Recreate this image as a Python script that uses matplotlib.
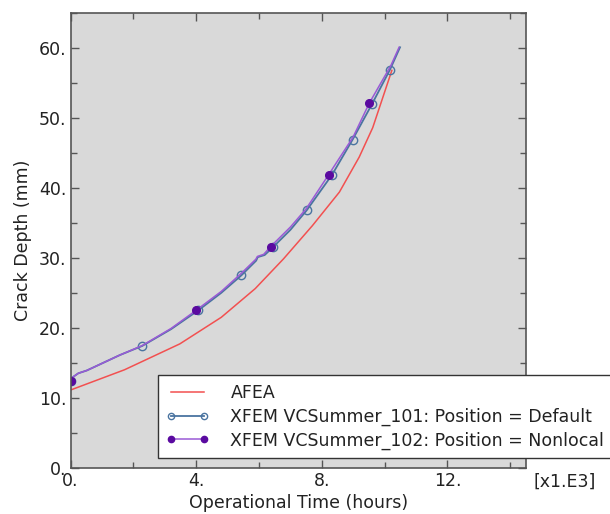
import matplotlib
matplotlib.use("Agg")
import matplotlib.pyplot as plt
from matplotlib.ticker import MultipleLocator, FuncFormatter

# ---- data (time in thousands of hours, depth in mm) ----
afea_x = [0.0, 1.72, 3.48, 4.80, 5.88, 6.78, 7.70, 8.56, 9.19, 9.62, 10.23]
afea_y = [11.1, 14.0, 17.7, 21.5, 25.6, 29.85, 34.6, 39.4, 44.4, 48.6, 56.8]

def_x = [0.0, 0.09, 0.25, 0.52, 1.57, 2.28, 3.20, 4.07, 4.80, 5.44, 5.91, 5.96, 6.18, 6.44, 7.00, 7.52, 8.33, 8.98, 9.60, 10.17, 10.49]
def_y = [12.45, 13.0, 13.5, 13.9, 16.1, 17.4, 19.8, 22.5, 25.0, 27.5, 29.6, 30.1, 30.4, 31.5, 34.0, 36.8, 41.9, 46.9, 52.0, 56.9, 60.1]
def_marks = [0, 5, 7, 9, 13, 15, 16, 17, 18, 19]

nl_x = [0.0, 0.09, 0.25, 0.52, 1.57, 2.28, 3.20, 4.00, 4.80, 5.44, 5.90, 5.95, 6.15, 6.37, 7.00, 7.50, 8.22, 9.00, 9.51, 10.20, 10.46]
nl_y = [12.45, 13.0, 13.5, 13.9, 16.1, 17.45, 19.9, 22.5, 25.2, 27.8, 29.8, 30.2, 30.5, 31.6, 34.4, 37.0, 41.9, 47.3, 52.1, 57.5, 60.1]
nl_marks = [0, 7, 13, 16, 18]

labels = ["AFEA",
          "XFEM VCSummer_101: Position = Default",
          "XFEM VCSummer_102: Position = Nonlocal"]

FS = 12.5
TXT = "#222222"

fig = plt.figure(figsize=(6.10, 5.14), dpi=100)
ax = fig.add_axes([70.5 / 610, 1 - 467.7 / 514, 455.5 / 610, (467.7 - 13) / 514])
ax.set_facecolor("#d9d9d9")

l1, = ax.plot(afea_x, afea_y, color="#f25050", lw=1.1, label=labels[0])
l2, = ax.plot(def_x, def_y, color="#4a74a0", lw=1.3, marker="o", ms=6,
              mfc="none", mec="#4a74a0", mew=1.0, markevery=def_marks, label=labels[1])
l3, = ax.plot(nl_x, nl_y, color="#9a5ad6", lw=1.1, marker="o", ms=5.5,
              mfc="#5a0aa0", mec="#5a0aa0", markevery=nl_marks, label=labels[2])

ax.set_xlim(0, 14.5)
ax.set_ylim(0, 65)
ax.xaxis.set_major_locator(MultipleLocator(4))
ax.xaxis.set_minor_locator(MultipleLocator(2))
ax.yaxis.set_major_locator(MultipleLocator(10))
ax.yaxis.set_minor_locator(MultipleLocator(5))
fmt = FuncFormatter(lambda v, p: f"{v:.0f}.")
ax.xaxis.set_major_formatter(fmt)
ax.yaxis.set_major_formatter(fmt)
ax.tick_params(which="both", direction="in", top=True, right=True,
               color="#555555", labelsize=FS, labelcolor=TXT)
ax.tick_params(which="major", length=6, width=1)
ax.tick_params(which="minor", length=4, width=1)
ax.tick_params(axis="x", pad=3)
ax.tick_params(axis="y", pad=3)
for s in ax.spines.values():
    s.set_color("#555555")
    s.set_linewidth(1.2)

ax.set_xlabel("Operational Time (hours)", fontsize=FS, color=TXT, labelpad=3)
ax.set_ylabel("Crack Depth (mm)", fontsize=FS, color=TXT, labelpad=5)
fig.text(596 / 610, 1 - 482 / 514, "[x1.E3]", ha="right", va="center",
         fontsize=FS, color=TXT)

leg = fig.legend(handles=[l1, l2, l3], loc="upper left",
                 bbox_to_anchor=(157.5 / 610, 1 - 376 / 514, (612 - 157.5) / 610, 0.001),
                 mode="expand", fontsize=FS, frameon=True, fancybox=False,
                 numpoints=2, handlelength=2.5, handletextpad=1.2, borderpad=0.5,
                 labelspacing=0.32, borderaxespad=0)
leg.get_frame().set_edgecolor("#333333")
leg.get_frame().set_linewidth(1.0)
leg.get_frame().set_facecolor("white")
leg.get_frame().set_alpha(1)
for t in leg.get_texts():
    t.set_color(TXT)
for h in leg.legend_handles[1:]:
    h.set_markersize(4.5)

fig.savefig("out.png", dpi=100)
